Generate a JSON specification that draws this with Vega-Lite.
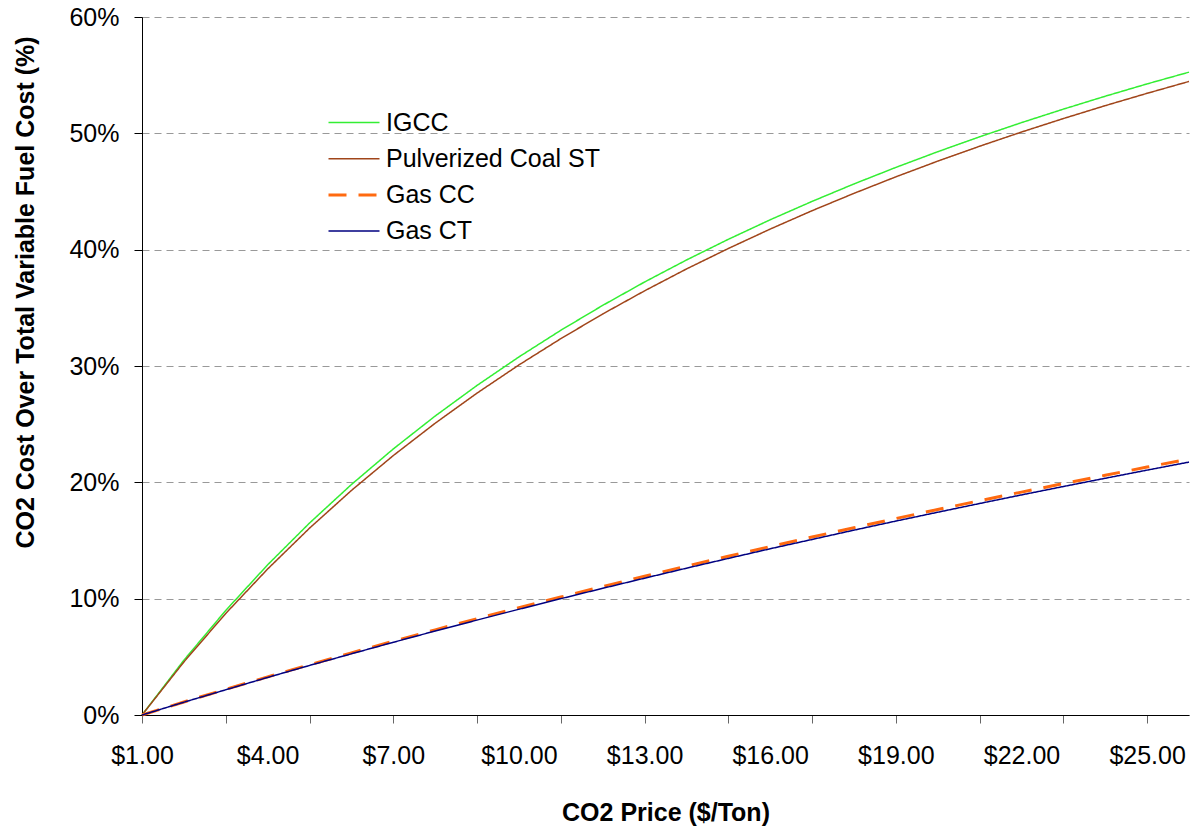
{
  "$schema": "https://vega.github.io/schema/vega-lite/v6.json",
  "width": 1047,
  "height": 698,
  "autosize": {"type": "none"},
  "padding": {"left": 142, "top": 17, "right": 8, "bottom": 116},
  "background": "white",
  "config": {
    "view": {"stroke": null},
    "font": "Liberation Sans",
    "axis": {"labelFont": "Liberation Sans", "titleFont": "Liberation Sans"},
    "legend": {"labelFont": "Liberation Sans"}
  },
  "data": {
    "values": [
      {"price": 1, "series": "IGCC", "share": 0},
      {"price": 2, "series": "IGCC", "share": 0.0471},
      {"price": 3, "series": "IGCC", "share": 0.0899},
      {"price": 4, "series": "IGCC", "share": 0.1291},
      {"price": 5, "series": "IGCC", "share": 0.165},
      {"price": 6, "series": "IGCC", "share": 0.1981},
      {"price": 7, "series": "IGCC", "share": 0.2287},
      {"price": 8, "series": "IGCC", "share": 0.257},
      {"price": 9, "series": "IGCC", "share": 0.2833},
      {"price": 10, "series": "IGCC", "share": 0.3078},
      {"price": 11, "series": "IGCC", "share": 0.3307},
      {"price": 12, "series": "IGCC", "share": 0.3521},
      {"price": 13, "series": "IGCC", "share": 0.3722},
      {"price": 14, "series": "IGCC", "share": 0.3911},
      {"price": 15, "series": "IGCC", "share": 0.4089},
      {"price": 16, "series": "IGCC", "share": 0.4257},
      {"price": 17, "series": "IGCC", "share": 0.4415},
      {"price": 18, "series": "IGCC", "share": 0.4565},
      {"price": 19, "series": "IGCC", "share": 0.4707},
      {"price": 20, "series": "IGCC", "share": 0.4842},
      {"price": 21, "series": "IGCC", "share": 0.497},
      {"price": 22, "series": "IGCC", "share": 0.5092},
      {"price": 23, "series": "IGCC", "share": 0.5208},
      {"price": 24, "series": "IGCC", "share": 0.5319},
      {"price": 25, "series": "IGCC", "share": 0.5425},
      {"price": 26, "series": "IGCC", "share": 0.5526},
      {"price": 1, "series": "Pulverized Coal ST", "share": 0},
      {"price": 2, "series": "Pulverized Coal ST", "share": 0.0456},
      {"price": 3, "series": "Pulverized Coal ST", "share": 0.0873},
      {"price": 4, "series": "Pulverized Coal ST", "share": 0.1255},
      {"price": 5, "series": "Pulverized Coal ST", "share": 0.1606},
      {"price": 6, "series": "Pulverized Coal ST", "share": 0.193},
      {"price": 7, "series": "Pulverized Coal ST", "share": 0.223},
      {"price": 8, "series": "Pulverized Coal ST", "share": 0.2508},
      {"price": 9, "series": "Pulverized Coal ST", "share": 0.2767},
      {"price": 10, "series": "Pulverized Coal ST", "share": 0.3009},
      {"price": 11, "series": "Pulverized Coal ST", "share": 0.3235},
      {"price": 12, "series": "Pulverized Coal ST", "share": 0.3447},
      {"price": 13, "series": "Pulverized Coal ST", "share": 0.3646},
      {"price": 14, "series": "Pulverized Coal ST", "share": 0.3834},
      {"price": 15, "series": "Pulverized Coal ST", "share": 0.401},
      {"price": 16, "series": "Pulverized Coal ST", "share": 0.4177},
      {"price": 17, "series": "Pulverized Coal ST", "share": 0.4335},
      {"price": 18, "series": "Pulverized Coal ST", "share": 0.4484},
      {"price": 19, "series": "Pulverized Coal ST", "share": 0.4626},
      {"price": 20, "series": "Pulverized Coal ST", "share": 0.4761},
      {"price": 21, "series": "Pulverized Coal ST", "share": 0.4889},
      {"price": 22, "series": "Pulverized Coal ST", "share": 0.5011},
      {"price": 23, "series": "Pulverized Coal ST", "share": 0.5127},
      {"price": 24, "series": "Pulverized Coal ST", "share": 0.5238},
      {"price": 25, "series": "Pulverized Coal ST", "share": 0.5344},
      {"price": 26, "series": "Pulverized Coal ST", "share": 0.5446},
      {"price": 1, "series": "Gas CC", "share": 0},
      {"price": 2, "series": "Gas CC", "share": 0.0112},
      {"price": 3, "series": "Gas CC", "share": 0.0221},
      {"price": 4, "series": "Gas CC", "share": 0.0328},
      {"price": 5, "series": "Gas CC", "share": 0.0432},
      {"price": 6, "series": "Gas CC", "share": 0.0534},
      {"price": 7, "series": "Gas CC", "share": 0.0634},
      {"price": 8, "series": "Gas CC", "share": 0.0732},
      {"price": 9, "series": "Gas CC", "share": 0.0828},
      {"price": 10, "series": "Gas CC", "share": 0.0922},
      {"price": 11, "series": "Gas CC", "share": 0.1014},
      {"price": 12, "series": "Gas CC", "share": 0.1104},
      {"price": 13, "series": "Gas CC", "share": 0.1193},
      {"price": 14, "series": "Gas CC", "share": 0.128},
      {"price": 15, "series": "Gas CC", "share": 0.1365},
      {"price": 16, "series": "Gas CC", "share": 0.1448},
      {"price": 17, "series": "Gas CC", "share": 0.153},
      {"price": 18, "series": "Gas CC", "share": 0.161},
      {"price": 19, "series": "Gas CC", "share": 0.1689},
      {"price": 20, "series": "Gas CC", "share": 0.1766},
      {"price": 21, "series": "Gas CC", "share": 0.1842},
      {"price": 22, "series": "Gas CC", "share": 0.1916},
      {"price": 23, "series": "Gas CC", "share": 0.1989},
      {"price": 24, "series": "Gas CC", "share": 0.2061},
      {"price": 25, "series": "Gas CC", "share": 0.2131},
      {"price": 26, "series": "Gas CC", "share": 0.2201},
      {"price": 1, "series": "Gas CT", "share": 0},
      {"price": 2, "series": "Gas CT", "share": 0.011},
      {"price": 3, "series": "Gas CT", "share": 0.0217},
      {"price": 4, "series": "Gas CT", "share": 0.0323},
      {"price": 5, "series": "Gas CT", "share": 0.0426},
      {"price": 6, "series": "Gas CT", "share": 0.0526},
      {"price": 7, "series": "Gas CT", "share": 0.0625},
      {"price": 8, "series": "Gas CT", "share": 0.0722},
      {"price": 9, "series": "Gas CT", "share": 0.0816},
      {"price": 10, "series": "Gas CT", "share": 0.0909},
      {"price": 11, "series": "Gas CT", "share": 0.1},
      {"price": 12, "series": "Gas CT", "share": 0.1089},
      {"price": 13, "series": "Gas CT", "share": 0.1176},
      {"price": 14, "series": "Gas CT", "share": 0.1262},
      {"price": 15, "series": "Gas CT", "share": 0.1346},
      {"price": 16, "series": "Gas CT", "share": 0.1429},
      {"price": 17, "series": "Gas CT", "share": 0.1509},
      {"price": 18, "series": "Gas CT", "share": 0.1589},
      {"price": 19, "series": "Gas CT", "share": 0.1667},
      {"price": 20, "series": "Gas CT", "share": 0.1743},
      {"price": 21, "series": "Gas CT", "share": 0.1818},
      {"price": 22, "series": "Gas CT", "share": 0.1892},
      {"price": 23, "series": "Gas CT", "share": 0.1964},
      {"price": 24, "series": "Gas CT", "share": 0.2035},
      {"price": 25, "series": "Gas CT", "share": 0.2105},
      {"price": 26, "series": "Gas CT", "share": 0.2174}
    ]
  },
  "mark": {"type": "line", "interpolate": "linear"},
  "encoding": {
    "x": {
      "field": "price",
      "type": "quantitative",
      "scale": {"domain": [1, 26], "nice": false, "zero": false},
      "axis": {
        "title": "CO2 Price ($/Ton)",
        "values": [1, 2, 3, 4, 5, 6, 7, 8, 9, 10, 11, 12, 13, 14, 15, 16, 17, 18, 19, 20, 21, 22, 23, 24, 25],
        "labelExpr": "(datum.value - 1) % 3 === 0 ? '$' + format(datum.value, '.2f') : ''",
        "tickOpacity": {"condition": {"test": "datum.value % 2 === 0", "value": 0}, "value": 1},
        "grid": false,
        "domainColor": "#000000",
        "domainWidth": 1,
        "tickColor": "#666666",
        "tickSize": 8,
        "labelFontSize": 25,
        "labelColor": "#000000",
        "labelPadding": 20,
        "labelOverlap": false,
        "labelFlush": false,
        "titleFontSize": 25,
        "titleFontWeight": "bold",
        "titleColor": "#000000",
        "titleBaseline": "alphabetic",
        "titleY": 105
      }
    },
    "y": {
      "field": "share",
      "type": "quantitative",
      "scale": {"domain": [0, 0.6], "nice": false},
      "axis": {
        "title": "CO2 Cost Over Total Variable Fuel Cost (%)",
        "values": [0, 0.1, 0.2, 0.3, 0.4, 0.5, 0.6],
        "format": ".0%",
        "grid": true,
        "gridColor": "#999999",
        "gridDash": [7, 5],
        "gridWidth": 1,
        "domainColor": "#000000",
        "tickColor": "#000000",
        "tickSize": 8,
        "labelFontSize": 25,
        "labelColor": "#000000",
        "labelPadding": 15,
        "titleFontSize": 25,
        "titleFontWeight": "bold",
        "titleColor": "#000000",
        "titleAngle": 270,
        "titleBaseline": "alphabetic",
        "titleX": -109,
        "titleY": 275
      }
    },
    "color": {
      "field": "series",
      "type": "nominal",
      "scale": {
        "domain": ["IGCC", "Pulverized Coal ST", "Gas CC", "Gas CT"],
        "range": ["#33ee33", "#a0451a", "#ff6a10", "#000080"]
      },
      "legend": {
        "title": null,
        "orient": "none",
        "legendX": 185,
        "legendY": 93,
        "padding": 0,
        "symbolType": "stroke",
        "symbolSize": 2601,
        "clipHeight": 25,
        "labelFontSize": 25,
        "labelColor": "#000000",
        "labelOffset": 5,
        "rowPadding": 10.2,
        "labelLimit": 400
      }
    },
    "strokeDash": {
      "field": "series",
      "type": "nominal",
      "scale": {
        "domain": ["IGCC", "Pulverized Coal ST", "Gas CC", "Gas CT"],
        "range": [[1, 0], [1, 0], [18, 12], [1, 0]]
      }
    },
    "strokeWidth": {
      "field": "series",
      "type": "nominal",
      "scale": {
        "type": "ordinal",
        "domain": ["IGCC", "Pulverized Coal ST", "Gas CC", "Gas CT"],
        "range": [1.5, 1.5, 3, 1.5]
      }
    }
  }
}
